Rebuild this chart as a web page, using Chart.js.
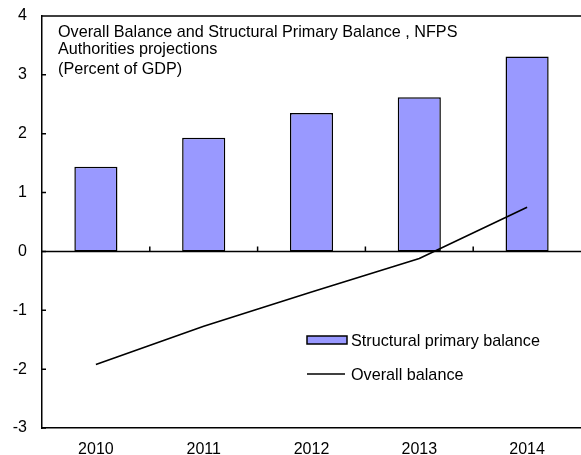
<!DOCTYPE html>
<html>
<head>
<meta charset="utf-8">
<script src="https://cdn.jsdelivr.net/npm/chart.js@4/dist/chart.umd.min.js"></script>
<style>
  html, body { margin: 0; padding: 0; background: #fff; }
  #wrap { width: 581px; height: 455px; }
</style>
</head>
<body>
<div id="wrap"><canvas id="c" width="581" height="455"></canvas></div>
<script>
// Fiscal balance data, NFPS (percent of GDP)
const years = ['2010', '2011', '2012', '2013', '2014'];
const structuralPrimaryBalance = [1.44, 1.93, 2.35, 2.62, 3.31];
const overallBalance = [-1.92, -1.27, -0.69, -0.12, 0.75];
const yTicks = [-3, -2, -1, 0, 1, 2, 3, 4];
const titleLines = [
  'Overall Balance and Structural Primary Balance , NFPS',
  'Authorities projections',
  '(Percent of GDP)'
];

const FONT = '"Liberation Sans", Arial, sans-serif';
const BAR_FILL = '#9999FF';
const INK = '#000000';

// Frame, zero line, inward ticks, title block and legend
const decorations = {
  id: 'decorations',
  beforeDatasetsDraw(chart) {
    const { ctx, chartArea: a, scales: { x, y } } = chart;
    ctx.save();
    ctx.strokeStyle = INK;
    ctx.lineWidth = 1.5;
    // zero line with category separators
    const y0 = y.getPixelForValue(0);
    ctx.beginPath();
    ctx.moveTo(a.left, y0);
    ctx.lineTo(a.right, y0);
    for (let i = 1; i < years.length; i++) {
      const xb = (x.getPixelForValue(i - 1) + x.getPixelForValue(i)) / 2;
      ctx.moveTo(xb, y0);
      ctx.lineTo(xb, y0 - 5);
    }
    ctx.stroke();
    ctx.restore();
  },
  afterDraw(chart) {
    const { ctx, chartArea: a, scales: { y } } = chart;
    ctx.save();
    ctx.strokeStyle = INK;
    ctx.lineWidth = 1.5;
    // top frame line
    ctx.beginPath();
    ctx.moveTo(a.left, a.top);
    ctx.lineTo(a.right, a.top);
    // inward ticks on the value axis
    yTicks.forEach(v => {
      const py = y.getPixelForValue(v);
      ctx.moveTo(a.left, py);
      ctx.lineTo(a.left + 4, py);
    });
    ctx.stroke();

    // title block
    ctx.fillStyle = INK;
    ctx.font = '16.2px ' + FONT;
    ctx.textAlign = 'left';
    ctx.textBaseline = 'alphabetic';
    const baselines = [37, 53.5, 74];
    titleLines.forEach((t, i) => ctx.fillText(t, a.left + 16, baselines[i]));

    // legend
    const ds = chart.data.datasets;
    const lx = 307;
    ctx.fillStyle = ds[1].backgroundColor;
    ctx.fillRect(lx, 336, 40, 8);
    ctx.lineWidth = 1.5;
    ctx.strokeStyle = ds[1].borderColor;
    ctx.strokeRect(lx, 336, 40, 8);
    ctx.beginPath();
    ctx.strokeStyle = ds[0].borderColor;
    ctx.lineWidth = ds[0].borderWidth;
    ctx.moveTo(lx, 374);
    ctx.lineTo(lx + 38, 374);
    ctx.stroke();
    ctx.fillStyle = INK;
    ctx.fillText(ds[1].label, 351, 345.5);
    ctx.fillText(ds[0].label, 351, 380);
    ctx.restore();
  }
};

new Chart(document.getElementById('c'), {
  data: {
    labels: years,
    datasets: [
      {
        type: 'line',
        label: 'Overall balance',
        data: overallBalance,
        borderColor: INK,
        borderWidth: 1.6,
        pointRadius: 0,
        fill: false,
        tension: 0,
        order: 0
      },
      {
        type: 'bar',
        label: 'Structural primary balance',
        data: structuralPrimaryBalance,
        backgroundColor: BAR_FILL,
        borderColor: INK,
        borderWidth: 1.5,
        borderSkipped: false,
        categoryPercentage: 1,
        barPercentage: 0.4,
        order: 1
      }
    ]
  },
  options: {
    responsive: false,
    animation: false,
    devicePixelRatio: 1,
    layout: { padding: { top: 16, right: 0, bottom: 0, left: 0 } },
    plugins: {
      legend: { display: false },
      title: { display: false },
      tooltip: { enabled: false }
    },
    scales: {
      x: {
        type: 'category',
        offset: true,
        grid: { display: false, drawTicks: false },
        border: { display: true, color: INK, width: 1.5 },
        ticks: { color: INK, font: { family: FONT, size: 16 }, padding: 12, maxRotation: 0 },
        afterFit(s) { s.height = 27; }
      },
      y: {
        min: -3,
        max: 4,
        grid: { display: false, drawTicks: false },
        border: { display: true, color: INK, width: 1.5 },
        ticks: {
          stepSize: 1,
          color: INK,
          font: { family: FONT, size: 16 },
          padding: 15
        },
        afterFit(s) {
          s.width = 42;
          s.paddingTop = 0;
          s.paddingBottom = 0;
        }
      }
    }
  },
  plugins: [decorations]
});
</script>
</body>
</html>
